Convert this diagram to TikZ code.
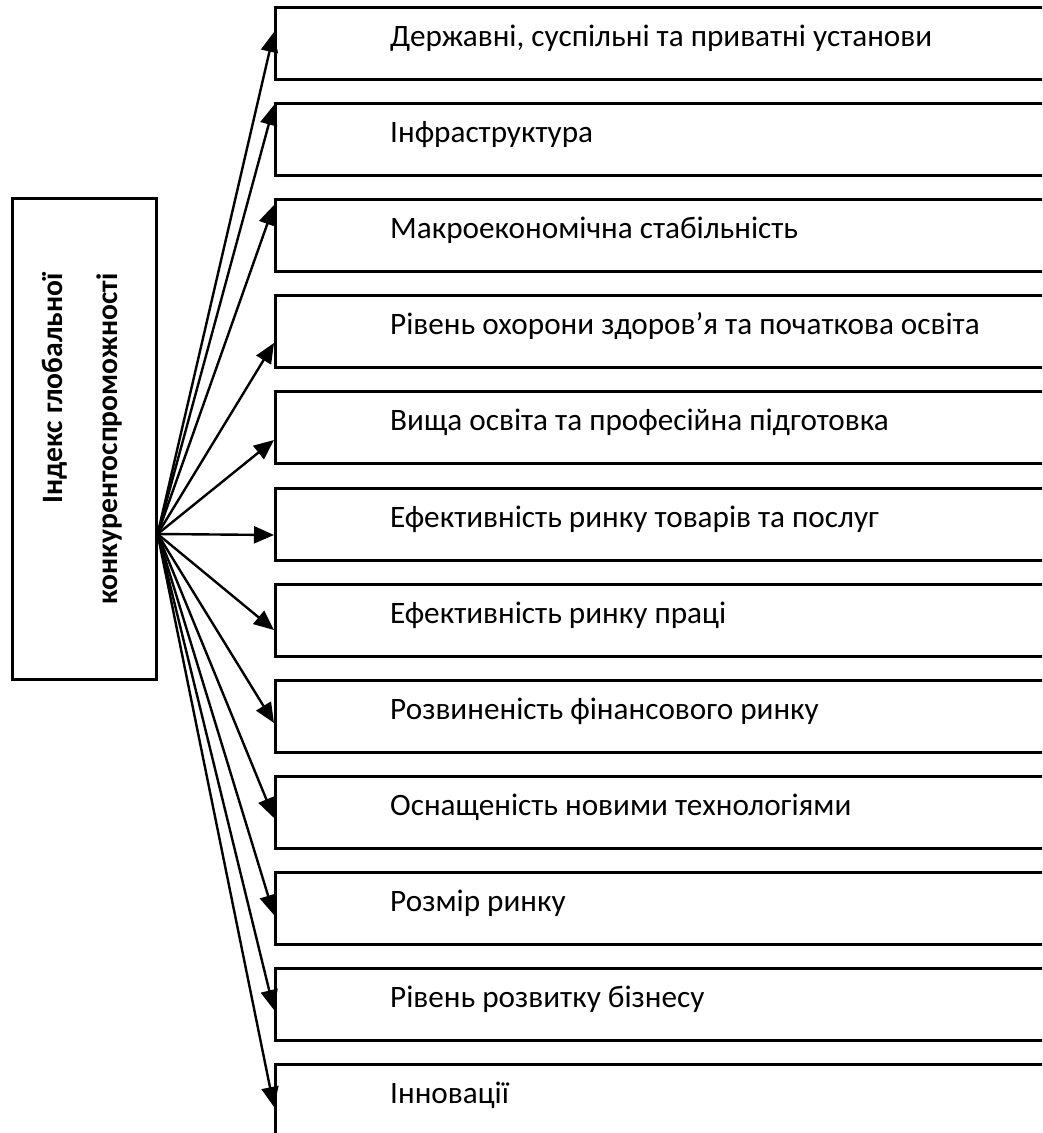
\documentclass[tikz,border=0pt]{standalone}
\usepackage{fontspec}
\setmainfont{Carlito}
\usetikzlibrary{arrows.meta,calc}
\begin{document}
\begin{tikzpicture}[x=1pt,y=-1pt,
  frame/.style={draw=black,line width=2.6pt,minimum width=780pt,minimum height=72pt,inner sep=0pt,anchor=north west},
  itemtext/.style={anchor=base west,inner sep=0pt,font=\fontsize{31.2}{38}\selectfont},
  link/.style={line width=2.4pt,-{Triangle[length=20pt 0 0,width=17pt 0 0]}}]
\clip (0,0) rectangle (1042,1133);
% index box on the left
\node[draw=black,line width=2.6pt,minimum width=144pt,minimum height=481pt,inner sep=0pt,anchor=north west] (src) at (11,197) {};
\node[rotate=90,align=right,inner sep=0pt,font=\fontsize{29.6}{55}\selectfont\bfseries] (srctext) at ($(src.center)+(-2,0)$) {Індекс глобальної\\конкурентоспроможності};
\coordinate (lvl) at (0,534);
\coordinate (hub) at (src.east |- lvl);
% component boxes
\foreach \i/\top/\txt in {
  1/6/{Державні, суспільні та приватні установи},
  2/102/{Інфраструктура},
  3/198/{Макроекономічна стабільність},
  4/294/{Рівень охорони здоров’я та початкова освіта},
  5/390/{Вища освіта та професійна підготовка},
  6/487/{Ефективність ринку товарів та послуг},
  7/583/{Ефективність ринку праці},
  8/679/{Розвиненість фінансового ринку},
  9/775/{Оснащеність новими технологіями},
  10/871/{Розмір ринку},
  11/967/{Рівень розвитку бізнесу},
  12/1063/{Інновації}}{
  \node[frame] (b\i) at (274,\top) {};
  \node[itemtext] (l\i) at ($(b\i.north west)+(116,40)$) {\txt};
}
% connectors from the index to each component
\foreach \i/\dy in {1/26,2/3,3/7,4/49,5/50,6/48,7/47,8/44,9/43,10/44,11/43,12/44}{
  \draw[link] (hub) -- ($(b\i.north west)+(0,\dy)$);
}
\end{tikzpicture}
\end{document}
